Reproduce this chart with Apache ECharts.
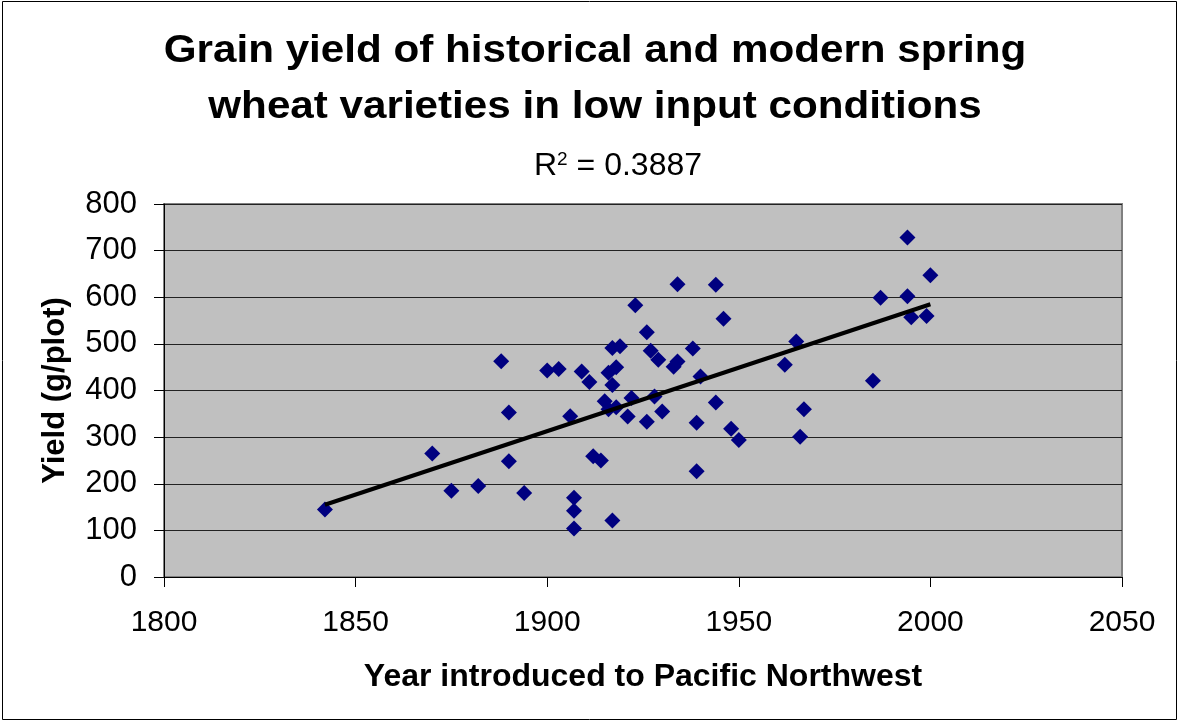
<!DOCTYPE html>
<html>
<head>
<meta charset="utf-8">
<script src="https://cdn.jsdelivr.net/npm/echarts@6/dist/echarts.min.js"></script>
<style>
  html, body { margin: 0; padding: 0; background: #fff; }
  #chart { width: 1179px; height: 723px; }
</style>
</head>
<body>
<div id="chart"></div>
<script>
// 品种引入年份
var years = [1842, 1870, 1875, 1882, 1888, 1890, 1890, 1894, 1900, 1903,
             1906, 1907, 1907, 1907, 1909, 1911, 1912, 1914, 1915, 1916,
             1916, 1917, 1917, 1918, 1917, 1918, 1919, 1921, 1922, 1923,
             1926, 1926, 1927, 1928, 1929, 1930, 1933, 1934, 1934, 1938,
             1939, 1939, 1940, 1944, 1944, 1946, 1948, 1950, 1962, 1965,
             1967, 1966, 1985, 1987, 1994, 1994, 1995, 1999, 2000];
// 产量 g/plot
var yields = [145, 265, 185, 195, 463, 353, 248, 180, 443, 446,
              345, 170, 142, 104, 441, 418, 259, 250, 377, 360,
              438, 412, 491, 450, 121, 364, 495, 344, 384, 583,
              525, 333, 485, 387, 466, 355, 451, 462, 628, 490,
              331, 227, 430, 627, 374, 554, 318, 294, 455, 505,
              360, 301, 421, 599, 728, 602, 557, 560, 647];
// 趋势线两端
var trendX = [1842, 2000];
var trendY = [155, 585];

var xTicks = [1800, 2050, 50];
var yTicks = [0, 800, 100];

var points = [];
for (var i = 0; i < years.length; i++) {
    points.push([years[i], yields[i]]);
}
var trend = [[trendX[0], trendY[0]], [trendX[1], trendY[1]]];

var font = 'Arial, "Liberation Sans", sans-serif';
var myChart = echarts.init(document.getElementById('chart'));
var option = {
    backgroundColor: '#fff',
    animation: false,
    title: [{
        text: 'R{sup|2} = 0.3887',
        left: 529,
        top: 145,
        textStyle: {
            fontFamily: font, fontSize: 32, fontWeight: 'normal', color: '#000',
            rich: {sup: {fontFamily: font, fontSize: 19, verticalAlign: 'top', padding: [0, 0, 14, 0]}}
        }
    }],
    graphic: [{
        type: 'rect',
        shape: {x: 2.5, y: 1.5, width: 1174, height: 718},
        style: {fill: 'none', stroke: '#000', lineWidth: 1},
        silent: true
    }, {
        //标题
        type: 'text',
        x: 595, y: 24,
        scaleX: 1.11,
        style: {
            text: 'Grain yield of historical and modern spring\nwheat varieties in low input conditions',
            fontFamily: font, fontSize: 38, fontWeight: 'bold', fill: '#000',
            align: 'center', verticalAlign: 'top', lineHeight: 56
        },
        silent: true
    }],
    grid: {
        left: 164, right: 57, top: 204, bottom: 146,
        show: true, backgroundColor: '#c0c0c0', borderColor: '#808080', borderWidth: 2
    },
    xAxis: {
        type: 'value',
        min: xTicks[0], max: xTicks[1], interval: xTicks[2],
        name: 'Year introduced to Pacific Northwest',
        nameLocation: 'middle', nameGap: 84,
        nameTextStyle: {fontFamily: font, fontSize: 32, fontWeight: 'bold', color: '#000'},
        axisLine: {onZero: false, lineStyle: {color: '#000', width: 1}},
        axisTick: {inside: false, length: 10, lineStyle: {color: '#000'}},
        axisLabel: {
            fontFamily: font, fontSize: 30, color: '#000', margin: 31,
            formatter: function (v) { return String(v); }
        },
        splitLine: {show: false}
    },
    yAxis: {
        type: 'value',
        min: yTicks[0], max: yTicks[1], interval: yTicks[2],
        name: 'Yield (g/plot)',
        nameLocation: 'middle', nameGap: 93,
        nameTextStyle: {fontFamily: font, fontSize: 31, fontWeight: 'bold', color: '#000'},
        axisLine: {show: true, lineStyle: {color: '#000', width: 1}},
        axisTick: {show: true, inside: false, length: 10, lineStyle: {color: '#000'}},
        axisLabel: {fontFamily: font, fontSize: 31, color: '#000', margin: 27},
        splitLine: {show: true, lineStyle: {color: '#222', width: 1}}
    },
    series: [{
        type: 'scatter',
        data: points,
        symbol: 'diamond',
        symbolSize: 16,
        itemStyle: {color: '#000080', opacity: 1},
        z: 3
    }, {
        type: 'line',
        data: trend,
        symbol: 'none',
        lineStyle: {color: '#000', width: 4},
        z: 4
    }]
};
if (option && typeof option === "object") {
    myChart.setOption(option, true);
}
</script>
</body>
</html>
